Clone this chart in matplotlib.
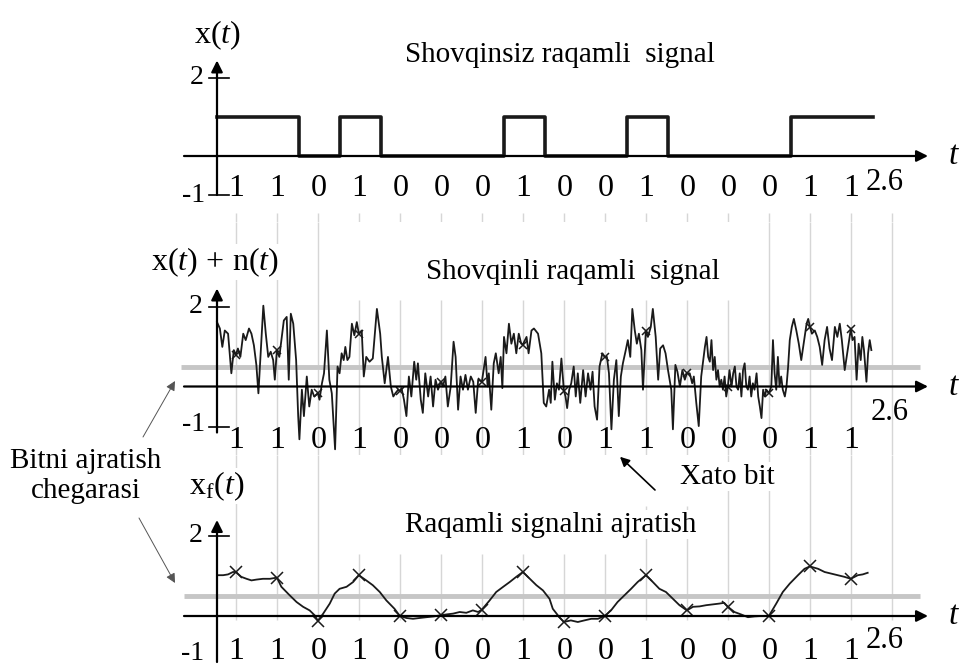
import numpy as np
import matplotlib.pyplot as plt

plt.rcParams['font.family'] = 'Liberation Serif'
plt.rcParams['mathtext.fontset'] = 'custom'
plt.rcParams['mathtext.rm'] = 'Liberation Serif'
plt.rcParams['mathtext.it'] = 'Liberation Serif:italic'

##################### DATA (time in bit periods) ########################
bits = [1, 1, 0, 1, 0, 0, 0, 1, 0, 0, 1, 0, 0, 0, 1, 1]
bit_labels_mid = ['1', '1', '0', '1', '0', '0', '0', '1', '0', '1', '1', '0', '0', '0', '1', '1']
threshold = 0.5
t_end_text = '2.6'

# noisy signal x(t) + n(t)
noisy_t = [0.00, 0.07, 0.13, 0.19, 0.27, 0.35, 0.41, 0.51, 0.57, 0.64, 0.70, 0.78, 0.84, 0.90,
           0.96, 1.01, 1.13, 1.19, 1.25, 1.31, 1.37, 1.41, 1.52, 1.63, 1.70, 1.75, 1.80,
           1.86, 1.93, 1.98, 2.01, 2.07, 2.12, 2.19, 2.25, 2.31, 2.37, 2.50, 2.56, 2.61,
           2.68, 2.74, 2.80, 2.88, 2.94, 2.99, 3.04, 3.09, 3.13, 3.18, 3.23, 3.29, 3.35,
           3.41, 3.53, 3.58, 3.64, 3.72, 3.80, 3.90, 3.98,
           4.02, 4.09, 4.17, 4.24, 4.30, 4.35, 4.42, 4.50, 4.56, 4.62, 4.68, 4.74, 4.81,
           4.86, 4.90, 4.97, 5.02, 5.08, 5.15, 5.21, 5.27, 5.33, 5.39, 5.51, 5.57, 5.63,
           5.70, 5.77, 5.82, 5.88, 5.94, 6.00, 6.06, 6.12, 6.19, 6.25, 6.31, 6.37, 6.43,
           6.49, 6.55, 6.60, 6.63, 6.69, 6.75, 6.80, 6.87, 6.92, 6.96, 7.00, 7.06, 7.12,
           7.18, 7.24, 7.30, 7.36, 7.42, 7.55, 7.60, 7.67, 7.73, 7.83, 7.91, 7.97,
           8.03, 8.10, 8.14, 8.18, 8.24, 8.29, 8.34, 8.40, 8.50, 8.54, 8.59, 8.64, 8.70,
           8.75, 8.80, 8.86, 8.93, 8.99, 9.05, 9.11, 9.16, 9.21, 9.27, 9.33, 9.40, 9.51,
           9.56, 9.62, 9.68, 9.74, 9.80, 9.85, 9.90, 9.97, 10.02, 10.08, 10.13, 10.19,
           10.24, 10.29, 10.35, 10.39, 10.51, 10.58, 10.63, 10.70, 10.76, 10.81, 10.88,
           10.94, 11.00, 11.04, 11.08, 11.12, 11.18, 11.23, 11.29, 11.35, 11.41, 11.53,
           11.59, 11.63, 11.69, 11.75, 11.81, 11.87, 11.90, 11.94, 11.98, 12.02, 12.06,
           12.10, 12.14, 12.18, 12.22, 12.26, 12.30, 12.34, 12.38, 12.42, 12.50, 12.55,
           12.59, 12.63, 12.67, 12.71, 12.75, 12.79, 12.83, 12.87, 12.91, 12.95, 12.99,
           13.03, 13.07, 13.11, 13.16, 13.20, 13.24, 13.28, 13.32, 13.36, 13.40, 13.52,
           13.56, 13.60, 13.64, 13.68, 13.72, 13.76, 13.80, 13.85, 13.89, 13.93, 13.97,
           14.02, 14.07, 14.13, 14.19, 14.25, 14.32, 14.38, 14.42, 14.51, 14.58, 14.64,
           14.70, 14.76, 14.82, 14.88, 14.94, 15.00, 15.07, 15.13, 15.19, 15.24, 15.31,
           15.37, 15.50, 15.55, 15.60, 15.65, 15.70, 15.74, 15.78, 15.84, 15.88, 15.92, 15.96]
noisy_v = [1.61, 1.45, 0.99, 1.40, 1.32, 0.33, 0.91, 0.95, 0.74, 1.32, 1.16, 1.45, 1.32, 1.03,
           0.54, -0.17, 2.02, 1.32, 0.74, 0.87, 0.66, 0.17, 0.74, 1.65, 1.74, 0.17, 1.82,
           1.57, 0.66, -0.74, -1.32, -0.08, -0.74, 0.25, -0.50, -0.08, -0.25, -0.33, 0.08, 0.33,
           1.40, 0.17, -0.17, -1.57, 0.50, 0.33, 0.83, 0.66, 0.99, 0.66, 0.74, 1.57, 1.28,
           1.61, 1.40, 0.25, 0.74, 0.62, 0.70, 1.94, 1.32,
           0.74, 0.08, 0.74, 0.00, -0.25, -0.17, -0.08, -0.04, -0.33, -0.74, 0.25, -0.25, 0.62,
           0.17, 0.58, -0.33, -0.66, 0.33, -0.25, 0.25, -0.50, 0.17, -0.08, 0.00, 0.25, -0.50,
           0.00, 1.12, 0.74, -0.58, 0.25, -0.08, 0.29, -0.08, 0.25, 0.12, -0.66, 0.17, 0.08,
           0.33, 0.74, 0.00, 0.33, -0.58, 0.58, 0.83, 0.33, 0.74, -0.04, 1.24, 0.83, 1.57,
           1.07, 1.32, 0.83, 1.32, 1.07, 1.24, 0.83, 1.40, 1.45, 1.32, 0.83, -0.41,
           -0.50, -0.08, -0.41, 0.62, -0.33, 0.08, -0.08, 0.70, -0.25, -0.54, -0.08, 0.08, 0.50,
           -0.25, 0.33, -0.41, 0.41, -0.25, 0.33, -0.08, 0.37, -0.50, -0.83, 0.50, 0.83, 0.74,
           0.33, -1.07, 0.17, 0.66, -0.74, 0.25, 0.58, 0.91, 1.16, 0.74, 1.94, 1.40,
           1.07, 1.32, 0.91, -0.08, 1.24, 1.49, 1.94, 1.24, 0.17, 0.95, 1.03,
           0.83, 0.41, 0.17, -0.08, -1.07, 0.54, 0.37, 0.00, 0.41, 0.17, 0.33,
           0.08, 0.25, -0.41, -0.99, 0.25, 0.74, 0.99, 1.24, 0.74, 0.62, 1.16,
           0.41, 0.74, 0.17, 0.41, 0.00, 0.17, -0.08, 0.25, -0.25, 0.41, 0.00,
           0.33, 0.50, 0.00, -0.08, 0.33, -0.25, 0.41, 0.58, 0.00, -0.08, 0.25,
           -0.25, 0.08, -0.08, 0.33, -0.25, -0.50, -0.79, -0.08, -0.25, -0.08, 0.00,
           1.16, 0.33, -0.08, 0.74, 0.00, 0.25, -0.08, -0.25, 0.00, 0.50, 1.16,
           1.49, 1.69, 1.40, 1.07, 0.66, 1.16, 1.57, 1.69, 1.32, 1.40, 1.24,
           0.99, 0.54, 1.16, 1.49, 0.95, 0.66, 1.49, 1.24, 1.57, 1.16, 0.41,
           0.83, 1.16, 1.24, 0.17, 1.07, 0.66, 1.24, 0.91, 0.12, 0.83, 1.16, 0.91]
# sampled values (x marks) at the bit centres
noisy_marks = [0.79, 0.91, -0.17, 1.32, -0.12, 0.12, 0.12, 1.05,
               -0.10, 0.74, 1.40, 0.33, 0.00, -0.17, 1.50, 1.45]

# filtered signal x_f(t)
filt_t = [0.00, 0.15, 0.27, 0.39, 0.59, 0.72, 0.84, 0.96, 1.12, 1.29, 1.57, 1.77, 1.94,
          2.10, 2.26, 2.38, 2.59, 2.75, 2.87, 2.99, 3.16, 3.32, 3.64, 3.80, 3.97, 4.13,
          4.33, 4.62, 4.78, 4.94, 5.11, 5.29, 5.60, 5.76, 5.92, 6.08, 6.24, 6.37, 6.65,
          6.81, 6.98, 7.14, 7.30, 7.63, 7.79, 7.95, 8.11, 8.19, 8.35, 8.63, 8.80, 8.96,
          9.13, 9.29, 9.61, 9.77, 9.94, 10.10, 10.26, 10.63, 10.79, 10.95, 11.12, 11.28,
          11.61, 11.77, 11.93, 12.09, 12.25, 12.37, 12.62, 12.78, 12.95, 13.11, 13.27,
          13.64, 13.80, 13.97, 14.17, 14.33, 14.66, 14.82, 14.98, 15.14, 15.30, 15.63,
          15.75, 15.87]
filt_v = [1.02, 1.02, 1.04, 1.10, 0.98, 0.93, 0.89, 0.91, 0.93, 0.93, 0.73, 0.52, 0.35,
          0.23, 0.14, 0.02, 0.06, 0.31, 0.56, 0.68, 0.73, 0.85, 0.89, 0.77, 0.60, 0.39,
          0.18, -0.05, -0.07, -0.05, -0.03, -0.01, 0.04, 0.06, 0.10, 0.08, 0.14, 0.10, 0.39,
          0.60, 0.73, 0.85, 0.98, 0.93, 0.77, 0.64, 0.43, 0.18, -0.03, -0.11, -0.15, -0.11,
          -0.07, -0.07, 0.14, 0.35, 0.52, 0.68, 0.85, 0.85, 0.68, 0.60, 0.43, 0.27,
          0.23, 0.24, 0.27, 0.29, 0.31, 0.33, 0.10, 0.04, -0.03, -0.01, 0.00,
          0.31, 0.60, 0.81, 1.02, 1.18, 1.18, 1.10, 1.06, 1.02, 0.98, 1.02,
          1.04, 1.08]
filt_marks = [1.10, 0.96, -0.12, 1.02, 0.00, 0.02, 0.16, 1.10,
              -0.15, 0.00, 1.02, 0.14, 0.23, 0.00, 1.24, 0.93]

########################## LAYOUT ##############################
W, H = 960, 666
T0_PX, BIT_PX = 217, 41.0
SAMPLE_OFS = 0.46
sample_t = np.arange(len(bits)) + SAMPLE_OFS
grid_t = np.arange(len(bits) + 1) + SAMPLE_OFS

LINE = '#1a1a1a'
GRID = '#d6d6d6'
THR = '#c6c6c6'
TITLE_FS = 21
LABEL_FS = 23
DIGIT_FS = 23
TICK_FS = 20


def bx(px):
    return (px - T0_PX) / BIT_PX


def make_ax(top, bottom, zero, unit):
    ax = fig.add_axes([0, 1 - bottom / H, 1, (bottom - top) / H])
    ax.set_xlim(bx(0), bx(W))
    ax.set_ylim((zero - bottom) / unit, (zero - top) / unit)
    ax.set_axis_off()
    return ax


def draw_axes(ax, ybot, ytop=2.45, neg_tick=True):
    arrow = dict(arrowstyle='-|>', color='black', lw=1.6, mutation_scale=17,
                 shrinkA=0, shrinkB=0)
    ax.annotate('', xy=(bx(928), 0), xytext=(bx(184), 0), arrowprops=arrow, zorder=5)
    ax.annotate('', xy=(0, ytop), xytext=(0, ybot), arrowprops=arrow, zorder=5)
    ax.plot([bx(209), bx(229)], [2, 2], color='black', lw=1.2, zorder=5)
    if neg_tick:
        ax.plot([bx(209), bx(229)], [-1, -1], color='black', lw=1.2, zorder=5)
    ax.text(bx(949), 0, 't', fontsize=24, style='italic', ha='left', va='center')


def merge(t, v, tm, vm):
    t = np.asarray(t)
    v = np.asarray(v)
    keep = np.min(np.abs(t[:, None] - tm[None, :]), axis=1) > 0.035
    tt = np.concatenate([t[keep], tm])
    vv = np.concatenate([v[keep], vm])
    order = np.argsort(tt)
    return tt[order], vv[order]


fig = plt.figure(figsize=(W / 100, H / 100), dpi=100)

# ---------------- top: clean signal ----------------
ax1 = make_ax(0, 222, 156, 39)
ax1.vlines(grid_t, -1.69, -1.46, color=GRID, lw=1)
ax1.step(np.arange(len(bits) + 1), bits + [bits[-1]], where='post', color=LINE, lw=2.6,
         zorder=4)
draw_axes(ax1, -1.0)
ax1.text(bx(217), 3.1, r'$\mathrm{x}(t)$', fontsize=LABEL_FS, ha='center', va='center')
ax1.text(bx(560), 2.6, 'Shovqinsiz raqamli  signal', fontsize=TITLE_FS, ha='center',
         va='center')
ax1.text(bx(204), 2.0, '2', fontsize=TICK_FS, ha='right', va='center')
ax1.text(bx(205), -1.02, '-1', fontsize=TICK_FS, ha='right', va='center')
for k, b in enumerate(bits):
    ax1.text(k + 0.47, -0.83, str(b), fontsize=DIGIT_FS, ha='center', va='center')
ax1.text(bx(885), -0.67, t_end_text, fontsize=22, ha='center', va='center')

# ---------------- middle: noisy signal ----------------
ax2 = make_ax(222, 455, 386.5, 40)
top2 = (386.5 - 222) / 40
for k, g in enumerate(grid_t):
    ax2.vlines(g, -1.72, 2.16 if 3 <= k <= 12 else top2, color=GRID, lw=1)
ax2.hlines(threshold, bx(181), bx(920), color=THR, lw=3.5, zorder=2)
nt, nv = merge(noisy_t, noisy_v, sample_t, np.array(noisy_marks))
ax2.plot(nt, nv, color=LINE, lw=1.3, zorder=4)
ax2.plot(sample_t, noisy_marks, 'x', color=LINE, ms=6, mew=1.1, zorder=4)
draw_axes(ax2, -1.15)
ax2.text(bx(215), 3.11, r'$\mathrm{x}(t)\,+\,\mathrm{n}(t)$', fontsize=LABEL_FS,
         ha='center', va='center', bbox=dict(fc='white', ec='none', pad=1))
ax2.text(bx(573), 2.86, 'Shovqinli raqamli  signal', fontsize=TITLE_FS, ha='center',
         va='center', bbox=dict(fc='white', ec='none', pad=1))
ax2.text(bx(203), 2.0, '2', fontsize=TICK_FS, ha='right', va='center')
ax2.text(bx(205), -0.96, '-1', fontsize=TICK_FS, ha='right', va='center')
for k, b in enumerate(bit_labels_mid):
    ax2.text(k + 0.47, -1.34, b, fontsize=DIGIT_FS, ha='center', va='center')
ax2.text(bx(890), -0.64, t_end_text, fontsize=22, ha='center', va='center')

# ---------------- bottom: filtered signal ----------------
ax3 = make_ax(455, 666, 616, 40)
top3 = (616 - 455) / 40
for k, g in enumerate(grid_t):
    if 3 <= k <= 9:
        ymax = 1.55
    elif k in (10, 11):
        ymax = 2.75
    else:
        ymax = top3
    ax3.vlines(g, -0.1, ymax, color=GRID, lw=1)
ax3.hlines(threshold, bx(184), bx(920), color=THR, lw=3.5, zorder=2)
ft, fv = merge(filt_t, filt_v, sample_t, np.array(filt_marks))
ax3.plot(ft, fv, color=LINE, lw=1.3, zorder=4)
ax3.plot(sample_t, filt_marks, 'x', color=LINE, ms=9, mew=1.1, zorder=4)
draw_axes(ax3, -1.15, ytop=2.4, neg_tick=False)
ax3.text(bx(217), 3.25, r'$\mathrm{x}_\mathrm{f}(t)$', fontsize=LABEL_FS, ha='center',
         va='center', bbox=dict(fc='white', ec='none', pad=1))
ax3.text(bx(551), 2.28, 'Raqamli signalni ajratish', fontsize=TITLE_FS, ha='center',
         va='center', bbox=dict(fc='white', ec='none', pad=1))
ax3.text(bx(727), 3.48, 'Xato bit', fontsize=TITLE_FS, ha='center', va='center',
         bbox=dict(fc='white', ec='none', pad=1))
ax3.text(bx(203), 2.0, '2', fontsize=TICK_FS, ha='right', va='center')
ax3.text(bx(204), -0.93, '-1', fontsize=TICK_FS, ha='right', va='center')
for k, b in enumerate(bits):
    ax3.text(k + 0.47, -0.88, str(b), fontsize=DIGIT_FS, ha='center', va='center')
ax3.text(bx(885), -0.6, t_end_text, fontsize=22, ha='center', va='center')

# error-bit arrow
ax3.annotate('', xy=(bx(620), 3.98), xytext=(bx(655), 3.15),
             arrowprops=dict(arrowstyle='-|>', color='black', lw=1.2, mutation_scale=14,
                             shrinkA=0, shrinkB=0), zorder=6)

# threshold annotation
fig.text(86 / W, 1 - 476 / H, 'Bitni ajratish\nchegarasi', fontsize=TITLE_FS, ha='center',
         va='center', linespacing=1.2)
thin = dict(arrowstyle='-|>', color='#555555', lw=0.7, mutation_scale=14,
            shrinkA=0, shrinkB=0)
ax2.annotate('', xy=(bx(175), (386.5 - 381) / 40), xytext=(bx(143), (386.5 - 437) / 40),
             arrowprops=thin)
ax3.annotate('', xy=(bx(175), (616 - 583) / 40), xytext=(bx(139), (616 - 518) / 40),
             arrowprops=thin)

fig.savefig('out.png', dpi=100)
